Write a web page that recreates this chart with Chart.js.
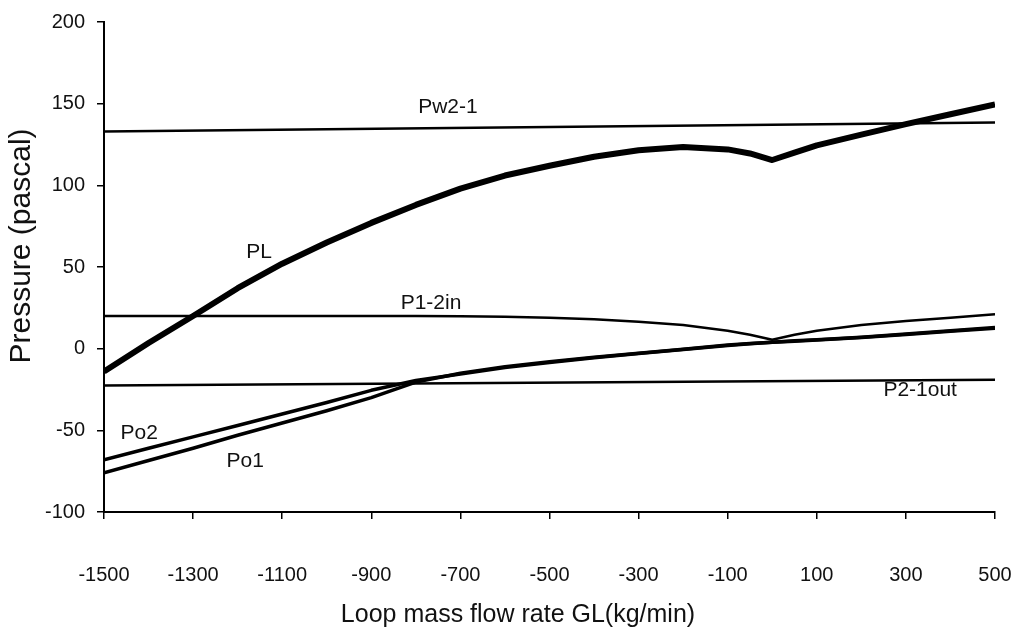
<!DOCTYPE html>
<html>
<head>
<meta charset="utf-8">
<script src="https://cdn.jsdelivr.net/npm/chart.js@4"></script>
<style>
body{margin:0;background:#fff}
#wrap{width:1019px;height:630px}
</style>
</head>
<body>
<div id="wrap"><canvas id="graph"></canvas></div>
<script>
/* values */
var GL = [-1500,-1400,-1300,-1200,-1100,-1000,-900,-800,-700,-600,-500,-400,-300,-200,-100,-50,0,50,100,200,300,400,500];
var PL = [-14,3.5,20,37,52,65,77,88,98,106,112,117.5,121.5,123.5,122,119.5,115.5,120,124.5,131,137.5,143.5,149.5];
var P12in = [20,20,20,20,20,20,20,20,19.8,19.5,19,18,16.5,14.5,11,8.5,5.5,8.5,11,14.5,17,19,21];
var Po2 = [-68,-61,-54,-47,-40,-33,-25.5,-19.5,-15.5,-11.5,-8.5,-5.5,-3,-0.5,2,3,4,4.8,5.5,7,9,11,13];
var Po1 = [-76,-68.5,-61,-53,-45.5,-38,-30,-20.5,-15,-11,-8,-5.3,-2.8,-0.3,2.2,3.1,4,4.6,5.3,6.8,8.7,10.6,12.5];
var flatGL = [-1500,500];
var Pw21 = [133,138.5];
var P21out = [-22.5,-19];

/* curve names written on the plot */
var labelText = ['Pw2-1','PL','P1-2in','P2-1out','Po2','Po1'];
var labelX = [-728,-1152,-766,332,-1421,-1183];
var labelY = [147.7,58.8,27.6,-25.7,-51.5,-69];

function pts(xs, ys){
	return xs.map(function(x, i){ return {x: x, y: ys[i]}; });
}

function line(name, xs, ys, w){
	return {
		label: name,
		data: pts(xs, ys),
		borderColor: '#000',
		borderWidth: w,
		pointRadius: 0,
		tension: 0,
		borderJoinStyle: 'round',
		borderCapStyle: 'butt',
		fill: false
	};
}

var FONT = '"Liberation Sans", Arial, sans-serif';

var curveText = {
	id: 'curveText',
	afterDraw: function(chart){
		var ctx = chart.ctx, xs = chart.scales.x, ys = chart.scales.y;
		ctx.save();
		ctx.fillStyle = '#111';
		ctx.textAlign = 'center';
		ctx.textBaseline = 'middle';
		ctx.font = '21px ' + FONT;
		for (var i = 0; i < labelText.length; i++) {
			ctx.fillText(labelText[i], xs.getPixelForValue(labelX[i]), ys.getPixelForValue(labelY[i]));
		}
		/* axis titles */
		ctx.font = '25px ' + FONT;
		ctx.fillText('Loop mass flow rate GL(kg/min)', 518, 615);
		ctx.translate(22, 246);
		ctx.rotate(-Math.PI / 2);
		ctx.font = '30px ' + FONT;
		ctx.fillText('Pressure (pascal)', 0, 0);
		ctx.restore();
	}
};

var ctx = document.getElementById('graph');
var myChart = new Chart(ctx, {
	type: 'line',
	data: {
		datasets: [
			line('Pw2-1', flatGL, Pw21, 2.5),
			line('PL', GL, PL, 6),
			line('P1-2in', GL, P12in, 2.5),
			line('P2-1out', flatGL, P21out, 2.5),
			line('Po2', GL, Po2, 3.5),
			line('Po1', GL, Po1, 3.5)
		]
	},
	options: {
		responsive: true,
		maintainAspectRatio: false,
		animation: false,
		layout: {padding: {top: 22, right: 24, left: 0, bottom: 0}},
		plugins: {legend: {display: false}, tooltip: {enabled: false}},
		scales: {
			x: {
				type: 'linear',
				min: -1500,
				max: 500,
				afterFit: function(s){ s.height = 118; s.paddingRight = 0; s.paddingLeft = 0; },
				ticks: {stepSize: 200, color: '#111', font: {size: 20, family: FONT}, padding: 44, maxRotation: 0, autoSkip: false,
					callback: function(v){ return String(v); }},
				grid: {drawOnChartArea: false, drawTicks: true, tickLength: 7, color: '#000', lineWidth: 1.5},
				border: {display: true, color: '#000', width: 2}
			},
			y: {
				min: -100,
				max: 200,
				afterFit: function(s){ s.width = 104; s.paddingTop = 2; s.paddingBottom = 0; },
				ticks: {stepSize: 50, color: '#111', font: {size: 20, family: FONT}, padding: 12},
				grid: {drawOnChartArea: false, drawTicks: true, tickLength: 7, color: '#000', lineWidth: 1.5},
				border: {display: true, color: '#000', width: 2}
			}
		}
	},
	plugins: [curveText]
});
</script>
</body>
</html>
